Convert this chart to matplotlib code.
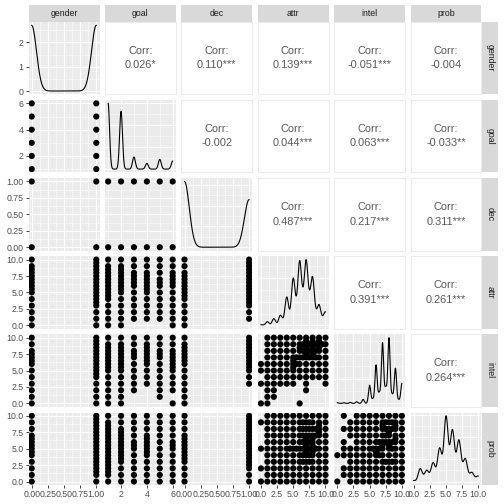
import numpy as np
import matplotlib
matplotlib.use('Agg')
import matplotlib.pyplot as plt
from matplotlib.ticker import MaxNLocator

plt.rcParams['font.family'] = ['Liberation Sans', 'DejaVu Sans']

# ---------------- data ----------------
variables = ['gender', 'goal', 'dec', 'attr', 'intel', 'prob']

# correlation labels (upper triangle), keyed by (row, col)
corr_labels = {
    (0, 1): '0.026*', (0, 2): '0.110***', (0, 3): '0.139***', (0, 4): '-0.051***', (0, 5): '-0.004',
    (1, 2): '-0.002', (1, 3): '0.044***', (1, 4): '0.063***', (1, 5): '-0.033**',
    (2, 3): '0.487***', (2, 4): '0.217***', (2, 5): '0.311***',
    (3, 4): '0.391***', (3, 5): '0.261***',
    (4, 5): '0.264***',
}

# value counts used for the diagonal densities
gender_values = [0, 1]
gender_counts = [4184, 4194]
goal_values = [1, 2, 3, 4, 5, 6]
goal_counts = [3426, 3012, 631, 301, 510, 419]
dec_values = [0, 1]
dec_counts = [4860, 3518]
attr_values = [0, 1, 2, 3, 3.5, 4, 4.5, 5, 5.5, 6, 6.5, 7, 7.5, 8, 8.5, 9, 9.5, 10]
attr_counts = [16, 96, 176, 256, 64, 720, 120, 1176, 320, 1576, 480, 1576, 480, 1176, 200, 496, 120, 336]
intel_values = [0, 1, 2, 3, 4, 5, 5.5, 6, 6.5, 7, 7.5, 8, 8.5, 9, 9.5, 10]
intel_counts = [16, 16, 24, 40, 96, 432, 100, 912, 240, 1432, 360, 1552, 200, 832, 80, 472]
prob_values = [0, 1, 1.5, 2, 2.5, 3, 3.5, 4, 4.5, 5, 5.5, 6, 6.5, 7, 7.5, 8, 8.5, 9, 9.5, 10]
prob_counts = [24, 320, 40, 264, 60, 448, 80, 792, 160, 1568, 240, 1208, 200, 968, 160, 528, 64, 208, 40, 128]

# scatter panels with a discrete x variable: x value -> y values present
pts_goal_gender = {0: [1, 2, 3, 4, 5, 6], 1: [1, 2, 3, 4, 5, 6]}
pts_dec_gender = {0: [0, 1], 1: [0, 1]}
pts_dec_goal = {1: [0, 1], 2: [0, 1], 3: [0, 1], 4: [0, 1], 5: [0, 1], 6: [0, 1]}
pts_attr_gender = {0: [0, 1, 2, 3, 4, 5, 6, 7, 8, 9, 10, 5.5, 6.5, 7.5, 8.5],
                   1: [0, 1, 2, 3, 4, 5, 6, 7, 8, 9, 10, 3.5, 4.5, 5.5, 6.5, 7.5, 8.5, 9.5]}
pts_attr_goal = {1: [0, 1, 2, 3, 4, 5, 6, 7, 8, 9, 10, 4.5, 5.5, 6.5, 7.5, 8.5],
                 2: [0, 1, 2, 3, 4, 5, 6, 7, 8, 9, 10, 5.5, 6.5, 7.5, 8.5],
                 3: [1, 2, 3, 4, 5, 6, 7, 8, 9, 10, 6.5, 7.5],
                 4: [1, 2, 3, 4, 5, 6, 7, 8, 9, 10, 5.5, 6.5, 7.5],
                 5: [1, 2, 3, 4, 5, 6, 7, 8, 9, 10, 6.5],
                 6: [0, 1, 2, 3, 4, 5, 6, 7, 8, 9, 10, 6.5, 7.5]}
pts_attr_dec = {0: [0, 1, 2, 3, 4, 5, 6, 7, 8, 9, 10, 4.5, 5.5, 6.5, 7.5],
                1: [1, 2, 3, 4, 5, 6, 7, 8, 9, 10, 3.5, 4.5, 5.5, 6.5, 7.5, 8.5, 9.5]}
pts_intel_gender = {0: [0, 1, 2, 3, 4, 5, 6, 7, 8, 9, 10, 6.5, 7.5],
                    1: [0, 1, 2, 3, 4, 5, 6, 7, 8, 9, 10, 4.5, 5.5, 6.5, 7.5, 8.5, 9.5]}
pts_intel_goal = {1: [0, 1, 2, 3, 4, 5, 6, 7, 8, 9, 10, 5.5, 6.5, 7.5, 8.5],
                  2: [0, 1, 2, 3, 4, 5, 6, 7, 8, 9, 10, 5.5, 6.5, 7.5, 8.5],
                  3: [2, 3, 4, 5, 6, 7, 8, 9, 10, 7.5],
                  4: [3, 4, 5, 6, 7, 8, 9, 10, 6.5, 7.5, 8.5],
                  5: [1, 2, 3, 4, 5, 6, 7, 8, 9, 10, 7.5],
                  6: [0, 2, 3, 4, 5, 6, 7, 8, 9, 10, 5.5, 6.5, 7.5]}
pts_intel_dec = {0: [0, 1, 2, 3, 4, 5, 6, 7, 8, 9, 10, 6.5, 7.5, 8.5],
                 1: [3, 4, 5, 6, 7, 8, 9, 10, 5.5, 6.5, 7.5, 8.5, 9.5]}
pts_prob_gender = {0: [0, 1, 2, 3, 4, 5, 6, 7, 8, 9, 10, 4.5, 5.5, 6.5],
                   1: [0, 1, 2, 3, 4, 5, 6, 7, 8, 9, 10, 1.5, 2.5, 3.5, 4.5, 5.5, 6.5, 7.5, 8.5, 9.5]}
pts_prob_goal = {1: [0, 1, 2, 3, 4, 5, 6, 7, 8, 9, 10, 1.5, 2.5, 3.5, 4.5, 5.5, 6.5, 7.5, 8.5],
                 2: [0, 1, 2, 3, 4, 5, 6, 7, 8, 9, 10, 3.5, 4.5, 5.5, 6.5, 7.5],
                 3: [0, 1, 2, 3, 4, 5, 6, 7, 8, 9, 10, 5.5],
                 4: [0, 1, 2, 3, 4, 5, 6, 7, 8, 9, 10, 4.5, 5.5, 6.5],
                 5: [0, 1, 2, 3, 4, 5, 6, 7, 8, 9, 10],
                 6: [0, 1, 2, 3, 4, 5, 6, 7, 8, 9, 10, 5.5]}
pts_prob_dec = {0: [0, 1, 2, 3, 4, 5, 6, 7, 8, 9, 10, 3.5, 4.5, 5.5, 6.5],
                1: [0, 1, 2, 3, 4, 5, 6, 7, 8, 9, 10, 2.5, 3.5, 4.5, 5.5, 6.5, 7.5, 8.5, 9.5]}

# scatter panels with two rating variables: y value -> x values present, plus half-step points
rows_intel_attr = {10: [1, 2, 3, 4, 5, 6, 7, 8, 9, 10], 9: [1, 2, 3, 4, 5, 6, 7, 8, 9, 10],
                   8: [1, 2, 3, 4, 5, 6, 7, 8, 9, 10], 7: [1, 2, 3, 4, 5, 6, 7, 8, 9, 10],
                   6: [0, 1, 2, 3, 4, 5, 6, 7, 8, 9, 10], 5: [0, 1, 2, 3, 4, 5, 6, 7, 8, 9, 10],
                   4: [1, 2, 3, 4, 5, 6, 7, 8, 9, 10], 3: [0, 1, 2, 3, 4, 5, 7, 10],
                   2: [1, 2, 7], 1: [1, 2], 0: [0, 1, 6]}
half_intel_attr = [(6.5, 9), (7.5, 9), (8.5, 9), (6.5, 8), (7.5, 8), (8.5, 8), (6.5, 7), (7.5, 7),
                   (8.5, 7), (7, 8.5), (8, 8.5), (9, 8.5), (7, 7.5), (8, 7.5), (7, 9.5), (8, 9.5),
                   (9, 9.5), (6, 8.5), (5, 5.5), (5, 6.5), (5.5, 6), (5.5, 7), (9.5, 9)]
rows_prob_attr = {10: [1, 2, 3, 4, 5, 6, 7, 8, 9, 10], 9: [0, 1, 2, 3, 4, 5, 6, 7, 8, 9, 10],
                  8: [1, 2, 3, 4, 5, 6, 7, 8, 9, 10], 7: [1, 2, 3, 4, 5, 6, 7, 8, 9, 10],
                  6: [1, 2, 3, 4, 5, 6, 7, 8, 9, 10], 5: [0, 1, 2, 3, 4, 5, 6, 7, 8, 9, 10],
                  4: [1, 2, 3, 4, 5, 6, 7, 8, 9, 10], 3: [1, 2, 3, 4, 5, 6, 7, 8, 9, 10],
                  2: [0, 1, 2, 3, 4, 5, 6, 7, 8, 9, 10], 1: [1, 2, 3, 4, 5, 6, 7, 8, 9, 10],
                  0: [0, 1, 2, 3, 4, 5, 6, 7, 8, 9, 10]}
half_prob_attr = [(6.5, 3), (6.5, 4), (6.5, 5), (6.5, 6), (6.5, 7), (6.5, 8), (6.5, 9),
                  (7.5, 3), (7.5, 4), (7.5, 5), (7.5, 6), (7.5, 7), (7.5, 8), (7.5, 9),
                  (8.5, 5), (8.5, 7), (8.5, 8), (7, 5.5), (7, 6.5), (8, 5.5), (8, 6.5),
                  (9, 7.5), (9, 8.5), (7, 4.5), (8, 4.5), (5.5, 5), (4.5, 5)]
rows_prob_intel = {10: [1, 3, 4, 5, 6, 7, 8, 9, 10], 9: [2, 3, 4, 5, 6, 7, 8, 9, 10],
                   8: [1, 2, 3, 4, 5, 6, 7, 8, 9, 10], 7: [2, 3, 4, 5, 6, 7, 8, 9, 10],
                   6: [1, 3, 4, 5, 6, 7, 8, 9, 10], 5: [1, 2, 3, 4, 5, 6, 7, 8, 9, 10],
                   4: [0, 1, 2, 3, 4, 5, 6, 7, 8, 9, 10], 3: [2, 3, 4, 5, 6, 7, 8, 9, 10],
                   2: [1, 2, 3, 4, 5, 6, 7, 8, 9, 10], 1: [1, 2, 3, 4, 5, 6, 7, 8, 9, 10],
                   0: [0, 2, 3, 4, 5, 6, 7, 8, 9, 10]}
half_prob_intel = [(7.5, 9), (8.5, 8), (8.5, 9), (7.5, 7), (7.5, 8), (6.5, 6), (6.5, 5),
                   (7.5, 6), (6.5, 4), (8.5, 6), (8.5, 5), (7, 8.5), (8, 7.5), (9, 8.5),
                   (7, 5.5), (6, 4.5), (8, 5.5), (9, 6.5), (5.5, 5), (7.5, 3), (8.5, 3)]

# ---------------- helpers ----------------
value_counts = {'gender': (gender_values, gender_counts), 'goal': (goal_values, goal_counts),
                'dec': (dec_values, dec_counts), 'attr': (attr_values, attr_counts),
                'intel': (intel_values, intel_counts), 'prob': (prob_values, prob_counts)}
discrete_pts = {('goal', 'gender'): pts_goal_gender, ('dec', 'gender'): pts_dec_gender,
                ('dec', 'goal'): pts_dec_goal, ('attr', 'gender'): pts_attr_gender,
                ('attr', 'goal'): pts_attr_goal, ('attr', 'dec'): pts_attr_dec,
                ('intel', 'gender'): pts_intel_gender, ('intel', 'goal'): pts_intel_goal,
                ('intel', 'dec'): pts_intel_dec, ('prob', 'gender'): pts_prob_gender,
                ('prob', 'goal'): pts_prob_goal, ('prob', 'dec'): pts_prob_dec}
rating_pts = {('intel', 'attr'): (rows_intel_attr, half_intel_attr),
              ('prob', 'attr'): (rows_prob_attr, half_prob_attr),
              ('prob', 'intel'): (rows_prob_intel, half_prob_intel)}

axis_spec = {
    'gender': ((-0.05, 1.05), [0, 0.25, 0.5, 0.75, 1.0], ['0.00', '0.25', '0.50', '0.75', '1.00']),
    'dec': ((-0.05, 1.05), [0, 0.25, 0.5, 0.75, 1.0], ['0.00', '0.25', '0.50', '0.75', '1.00']),
    'goal': ((0.75, 6.25), [2, 4, 6], ['2', '4', '6']),
    'attr': ((-0.5, 10.5), [0, 2.5, 5, 7.5, 10], ['0.0', '2.5', '5.0', '7.5', '10.0']),
    'intel': ((-0.5, 10.5), [0, 2.5, 5, 7.5, 10], ['0.0', '2.5', '5.0', '7.5', '10.0']),
    'prob': ((-0.5, 10.5), [0, 2.5, 5, 7.5, 10], ['0.0', '2.5', '5.0', '7.5', '10.0']),
}


def minor_of(major, lim):
    major = list(major)
    step = major[1] - major[0]
    ext = [major[0] - step] + major + [major[-1] + step]
    mids = [(a + b) / 2 for a, b in zip(ext[:-1], ext[1:])]
    return [m for m in mids if lim[0] <= m <= lim[1]]


def kde(values, counts):
    data = np.repeat(np.asarray(values, float), counts)
    n = len(data)
    sd = data.std(ddof=1)
    q75, q25 = np.percentile(data, [75, 25])
    h = 0.9 * min(sd, (q75 - q25) / 1.34) * n ** -0.2
    xs = np.linspace(data.min(), data.max(), 512)
    v = np.asarray(values, float)
    c = np.asarray(counts, float)
    d = (c[None, :] * np.exp(-0.5 * ((xs[:, None] - v[None, :]) / h) ** 2)).sum(1) / (n * h * np.sqrt(2 * np.pi))
    return xs, d


BG = '#EBEBEB'
STRIP = '#D9D9D9'


def style_grid(ax, xmaj, xlim, ymaj, ylim):
    ax.set_facecolor(BG)
    for m in minor_of(xmaj, xlim):
        ax.axvline(m, color='white', lw=0.55, zorder=0)
    for m in minor_of(ymaj, ylim):
        ax.axhline(m, color='white', lw=0.55, zorder=0)
    for m in xmaj:
        if xlim[0] <= m <= xlim[1]:
            ax.axvline(m, color='white', lw=1.1, zorder=0)
    for m in ymaj:
        if ylim[0] <= m <= ylim[1]:
            ax.axhline(m, color='white', lw=1.1, zorder=0)
    ax.set_xlim(*xlim)
    ax.set_ylim(*ylim)
    for s in ax.spines.values():
        s.set_visible(False)


# ---------------- layout ----------------
W = H = 504
fig = plt.figure(figsize=(7, 7), dpi=72)
left0, step_x, pw = 28.5, 76.4, 71.0
top0, step_y, ph = 22.0, 78.1, 72.3


def add_ax(x, y, w, h):
    return fig.add_axes([x / W, 1 - (y + h) / H, w / W, h / H])


nv = len(variables)
for i, rv in enumerate(variables):
    for j, cv in enumerate(variables):
        x0 = left0 + j * step_x
        y0 = top0 + i * step_y
        ax = add_ax(x0, y0, pw, ph)
        xlim, xmaj, xlab = axis_spec[cv]
        ylim, ymaj, ylab = axis_spec[rv]
        if i < j:
            ax.set_facecolor('white')
            for s in ax.spines.values():
                s.set_color('#EBEBEB')
                s.set_linewidth(1.0)
            ax.text(0.5, 0.60, 'Corr:', ha='center', va='center', fontsize=11,
                    color='#595959', transform=ax.transAxes)
            ax.text(0.5, 0.40, corr_labels[(i, j)], ha='center', va='center', fontsize=11,
                    color='#595959', transform=ax.transAxes)
            ax.set_xticks([])
            ax.set_yticks([])
        elif i == j:
            xs, d = kde(*value_counts[rv])
            dmax = d.max()
            dlim = (-0.05 * dmax, 1.05 * dmax)
            if i == 0:
                dmaj = [0, 1, 2]
            else:
                loc = MaxNLocator(nbins=4, steps=[1, 2, 2.5, 5, 10])
                dmaj = [t for t in loc.tick_values(0, dmax) if 0 <= t <= dmax * 1.05]
            style_grid(ax, xmaj, xlim, dmaj, dlim)
            ax.plot(xs, d, color='black', lw=1.1, zorder=3)
            ymaj, ylab = (dmaj, ['0', '1', '2']) if i == 0 else (ymaj, ylab)
        else:
            style_grid(ax, xmaj, xlim, ymaj, ylim)
            if (rv, cv) in discrete_pts:
                px, py = [], []
                for xv, ys in discrete_pts[(rv, cv)].items():
                    px += [xv] * len(ys)
                    py += list(ys)
            else:
                rows, halves = rating_pts[(rv, cv)]
                px, py = [], []
                for yv, xsl in rows.items():
                    px += list(xsl)
                    py += [yv] * len(xsl)
                px += [h[0] for h in halves]
                py += [h[1] for h in halves]
            ax.scatter(px, py, s=38, color='black', edgecolors='none', zorder=3)

        # ticks only on outer panels
        if j == 0:
            ax.set_yticks(ymaj)
            ax.set_yticklabels(ylab)
        else:
            ax.set_yticks([])
        if i == nv - 1:
            ax.set_xticks(xmaj)
            ax.set_xticklabels(xlab)
        else:
            ax.set_xticks([])
        ax.tick_params(axis='both', length=2.75, width=0.9, color='#333333',
                       labelcolor='#4D4D4D', labelsize=8.8, pad=2.0)

# strips
for j, cv in enumerate(variables):
    x0 = left0 + j * step_x
    sax = add_ax(x0, 5.3, pw, 16.7)
    sax.set_facecolor(STRIP)
    sax.set_xticks([]); sax.set_yticks([])
    for s in sax.spines.values():
        s.set_visible(False)
    sax.text(0.5, 0.5, cv, ha='center', va='center', fontsize=8.8, color='#1A1A1A',
             transform=sax.transAxes)
for i, rv in enumerate(variables):
    y0 = top0 + i * step_y
    sax = add_ax(left0 + 5 * step_x + pw, y0, 16.8, ph)
    sax.set_facecolor(STRIP)
    sax.set_xticks([]); sax.set_yticks([])
    for s in sax.spines.values():
        s.set_visible(False)
    sax.text(0.5, 0.5, rv, ha='center', va='center', fontsize=8.8, color='#1A1A1A',
             rotation=-90, transform=sax.transAxes)

fig.savefig('out.png', dpi=72, facecolor='white')
